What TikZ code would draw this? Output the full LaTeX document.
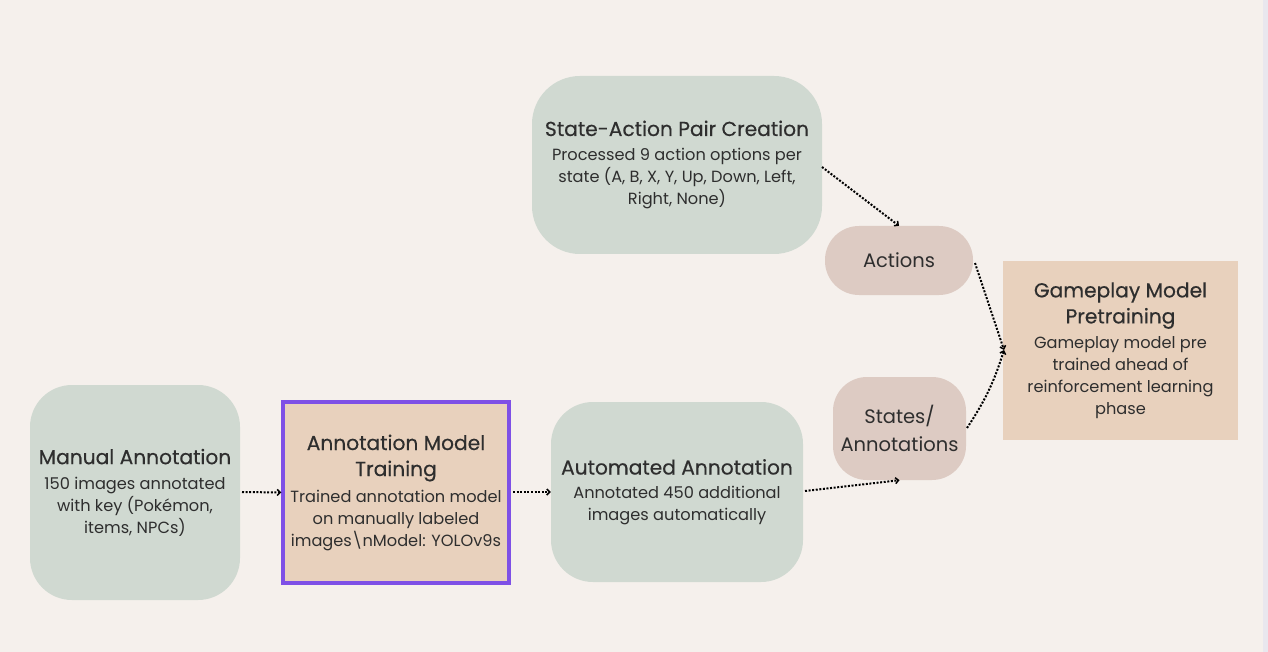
\documentclass[tikz,border=0pt]{standalone}
\usepackage{fontspec}
\setmainfont{Poppins}
\newfontfamily\ttlfam{Poppins}[FakeBold=0.4]
\usetikzlibrary{arrows.meta}
\definecolor{bgc}{HTML}{F5F0EC}
\definecolor{stripc}{HTML}{E9E7EE}
\definecolor{sage}{HTML}{D0D9D1}
\definecolor{peach}{HTML}{E8D1BD}
\definecolor{mauve}{HTML}{DDCBC3}
\definecolor{purp}{HTML}{7E50E6}
\definecolor{txt}{HTML}{2E2E2E}
\newcommand{\ttl}{\ttlfam\fontsize{20.2}{26}\selectfont}
\newcommand{\bdy}{\fontsize{16.2}{22}\selectfont}
\tikzset{
  base/.style={align=center, text=txt, inner sep=0pt, font=\bdy},
  sagebox/.style={base, fill=sage, rounded corners=42pt},
  stepbox/.style={base, fill=peach},
  pill/.style={base, fill=mauve, rounded corners=34pt, font=\fontsize{19.5}{26}\selectfont},
  flow/.style={draw=black, line width=2pt, dash pattern=on 2pt off 1.6pt,
    -{Straight Barb[length=3pt,width=6pt,line width=1.5pt]}}
}
\begin{document}
\begin{tikzpicture}[x=1pt,y=-1pt]
\fill[bgc] (0,0) rectangle (1268,652);
\fill[stripc] (1263,0) rectangle (1268,652);
\useasboundingbox (0,0) rectangle (1268,652);

\node[sagebox, minimum width=210pt, minimum height=215pt] (manual) at (135,492.5)
  {{\ttl Manual Annotation}\\[3pt]150 images annotated\\with key (Pokémon,\\items, NPCs)};
\node[stepbox, draw=purp, line width=3.5pt, minimum width=226pt, minimum height=181pt] (train) at (396,492.5)
  {{\ttl Annotation Model}\\[4pt]{\ttl Training}\\[4pt]Trained annotation model\\on manually labeled\\images\textbackslash nModel: YOLOv9s};
\node[sagebox, minimum width=252pt, minimum height=180pt] (auto) at (677,492)
  {{\ttl Automated Annotation}\\[2pt]Annotated 450 additional\\images automatically};
\node[sagebox, rounded corners=48pt, minimum width=290pt, minimum height=178pt] (sap) at (677,165)
  {{\ttl State-Action Pair Creation}\\[3pt]Processed 9 action options per\\state (A, B, X, Y, Up, Down, Left,\\Right, None)};
\node[pill, minimum width=148pt, minimum height=69pt] (actions) at (899,260.5) {Actions};
\node[pill, minimum width=133pt, minimum height=103pt] (states) at (899.5,428.5) {States/\\[2pt]Annotations};
\node[stepbox, minimum width=235pt, minimum height=179pt] (game) at (1120.5,350.5)
  {{\ttl Gameplay Model}\\[4pt]{\ttl Pretraining}\\[3pt]Gameplay model pre\\trained ahead of\\reinforcement learning\\phase};

\coordinate (mA) at (242,492);
\coordinate (tA) at (513,492);
\coordinate (aA) at (805,491);
\coordinate (sA) at (822,167);
\coordinate (acA) at (975,263);
\coordinate (stA) at (967,428);
\coordinate (gIn) at (1004,350);

\draw[flow] (mA) -- (train.west);
\draw[flow] (tA) -- (auto.west);
\draw[flow] (aA) -- (states.south);
\draw[flow] (sA) -- (actions.north);
\draw[flow] (acA) -- (gIn);
\draw[flow] (stA) to[bend right=8] (gIn);
\end{tikzpicture}
\end{document}
